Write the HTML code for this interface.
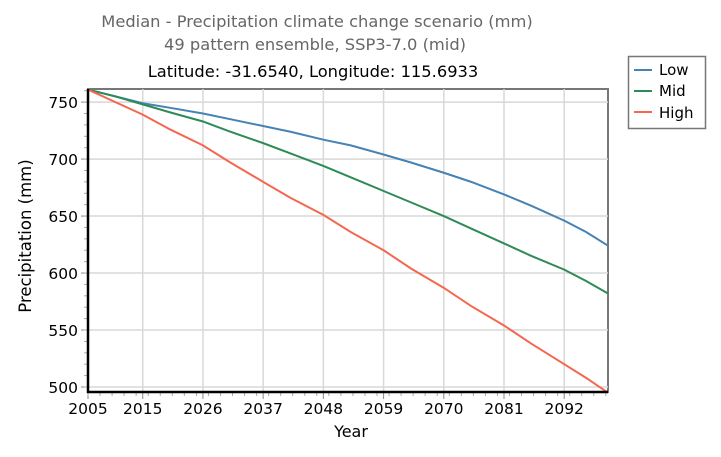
<!DOCTYPE html>
<html><head><meta charset="utf-8"><style>
body{margin:0;background:#fff;width:721px;height:453px;overflow:hidden;font-family:Verdana,"DejaVu Sans","Liberation Sans",sans-serif}
</style></head><body>
<svg id="c" width="721" height="453" xmlns="http://www.w3.org/2000/svg" font-family="Verdana, 'DejaVu Sans', 'Liberation Sans', sans-serif">
<text x="317" y="27" text-anchor="middle" font-size="16.3" fill="#666">Median - Precipitation climate change scenario (mm)</text>
<text x="315" y="50" text-anchor="middle" font-size="16.3" fill="#666">49 pattern ensemble, SSP3-7.0 (mid)</text>
<text x="313" y="77" text-anchor="middle" font-size="16.3" fill="#000">Latitude: -31.6540, Longitude: 115.6933</text>
<g id="grid"></g>
<g id="series"></g>
<g id="axes"></g>
<text x="351" y="437" text-anchor="middle" font-size="16">Year</text>
<text transform="translate(31,236) rotate(-90)" text-anchor="middle" font-size="16.5">Precipitation (mm)</text>
<g>
<rect x="628.5" y="56.5" width="77" height="72" fill="#fff" stroke="#777" stroke-width="1.5"/>
<line x1="634" y1="70" x2="652" y2="70" stroke="#4682b4" stroke-width="2"/>
<text x="659" y="75" font-size="15">Low</text>
<line x1="634" y1="91" x2="652" y2="91" stroke="#2e8b57" stroke-width="2"/>
<text x="659" y="96" font-size="15">Mid</text>
<line x1="634" y1="112" x2="652" y2="112" stroke="#f4684f" stroke-width="2"/>
<text x="659" y="118" font-size="15">High</text>
</g>
</svg>
<script>
const years=[2005,2010,2015,2020,2026,2031,2037,2042,2048,2053,2059,2064,2070,2075,2081,2086,2092,2096,2100];
const lowVals=[761,755,749,745,740,735,729,724,717,712,704,697,688,680,669,659,646,636,624];
const midVals=[761,755,748,741,733,724,714,705,694,684,672,662,650,639,626,615,603,593,582];
const highVals=[761,750,739,726,712,697,680,666,651,636,620,604,587,571,554,538,520,508,495];
const xTicks=[2005,2015,2026,2037,2048,2059,2070,2081,2092];
const yTicks=[500,550,600,650,700,750];
const L=88,R=608,T=89,B=392,X0=2005,X1=2100,Y0=495.6,Y1=761.5;
const xs=v=>L+(v-X0)/(X1-X0)*(R-L), ys=v=>B-(v-Y0)/(Y1-Y0)*(B-T);
const NS='http://www.w3.org/2000/svg';
function mk(t,a,p){const e=document.createElementNS(NS,t);for(const k in a)e.setAttribute(k,a[k]);p.appendChild(e);return e;}
const g=document.getElementById('grid'),ax=document.getElementById('axes'),sg=document.getElementById('series');
mk('rect',{x:L,y:T,width:R-L,height:B-T,fill:'#fff',stroke:'#777','stroke-width':2},g);
xTicks.forEach(v=>{const l=mk('line',{x1:xs(v),x2:xs(v),y1:T,y2:B,stroke:'#d8d8d8','stroke-width':1.5},g);


const t=mk('text',{x:xs(v),y:B+22,'text-anchor':'middle','font-size':15.5},ax);t.textContent=v;


mk('line',{x1:xs(v),x2:xs(v),y1:B,y2:B+7,stroke:'#888'},ax);});
for(let v=X0;v<=X1;v+=2.2){mk('line',{x1:xs(v),x2:xs(v),y1:B,y2:B+4,stroke:'#aaa'},ax);}
yTicks.forEach(v=>{const l=mk('line',{x1:L,x2:R,y1:ys(v),y2:ys(v),stroke:'#d8d8d8','stroke-width':1.5},g);


const t=mk('text',{x:L-10,y:ys(v)+6,'text-anchor':'end','font-size':15.5},ax);t.textContent=v;


mk('line',{x1:L-7,x2:L,y1:ys(v),y2:ys(v),stroke:'#888'},ax);});
for(let v=500;v<=760;v+=10){mk('line',{x1:L-4,x2:L,y1:ys(v),y2:ys(v),stroke:'#aaa'},ax);}
mk('line',{x1:L,x2:L,y1:T,y2:B+1,stroke:'#000','stroke-width':2.5},ax);
mk('line',{x1:L-1,x2:R,y1:B,y2:B,stroke:'#000','stroke-width':2.5},ax);
[[lowVals,'#4682b4','line-low'],[midVals,'#2e8b57','line-mid'],[highVals,'#f4684f','line-high']].forEach(([d,c,n])=>{
const p=mk('polyline',{points:d.map((v,i)=>xs(years[i])+','+ys(v)).join(' '),fill:'none',stroke:c,'stroke-width':2},sg);

});
</script>
</body></html>
